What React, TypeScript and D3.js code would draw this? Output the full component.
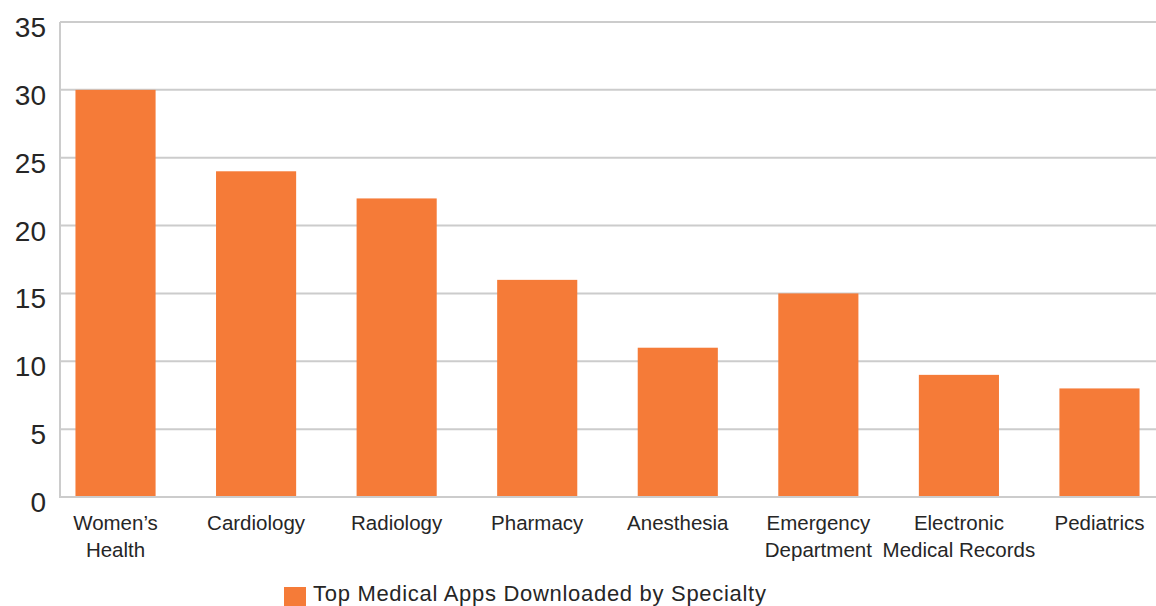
import React from "react";
import * as d3 from "d3";

const categories: string[][] = [
  ["Women’s", "Health"],
  ["Cardiology"],
  ["Radiology"],
  ["Pharmacy"],
  ["Anesthesia"],
  ["Emergency", "Department"],
  ["Electronic", "Medical Records"],
  ["Pediatrics"],
];
const values: number[] = [30, 24, 22, 16, 11, 15, 9, 8];
const yTicks: number[] = [0, 5, 10, 15, 20, 25, 30, 35];
const legendLabel = "Top Medical Apps Downloaded by Specialty";

const W = 1156;
const H = 606;
const FONT = "'Liberation Sans', Arial, sans-serif";

export default function App() {
  const keys = categories.map((c) => c.join(" "));
  const x = d3
    .scaleBand<string>()
    .domain(keys)
    .range([60, 1155])
    .paddingInner(0.43)
    .paddingOuter(0.11);
  const y = d3.scaleLinear().domain([0, 35]).range([497, 22]);
  const color = "#F57B38";

  return (
    <svg
      width={W}
      height={H}
      style={{ position: "absolute", left: 0, top: 0 }}
      fontFamily={FONT}
    >
      {yTicks.map((t) => (
        <g key={t}>
          <line x1={60} x2={W} y1={y(t)} y2={y(t)} stroke="#cccccc" strokeWidth={2} />
          <text
            x={46}
            y={y(t) + 15}
            textAnchor="end"
            fontSize={28}
            fill="#262626"
          >
            {t}
          </text>
        </g>
      ))}
      <line x1={60} x2={60} y1={y(35)} y2={y(0) + 1} stroke="#cccccc" strokeWidth={2} />
      {values.map((v, i) => (
        <rect
          key={keys[i]}
          x={x(keys[i])}
          y={y(v)}
          width={x.bandwidth()}
          height={y(0) - y(v) - 1}
          fill={color}
        />
      ))}
      {categories.map((lines, i) => {
        const cx = (x(keys[i]) as number) + x.bandwidth() / 2;
        return (
          <text key={keys[i]} textAnchor="middle" fontSize={20.5} fill="#262626">
            {lines.map((l, j) => (
              <tspan key={j} x={cx} y={530 + j * 27}>
                {l}
              </tspan>
            ))}
          </text>
        );
      })}
      <rect x={284} y={587} width={22} height={19} fill={color} />
      <text x={313} y={601} fontSize={22} letterSpacing={0.7} fill="#262626">
        {legendLabel}
      </text>
    </svg>
  );
}
